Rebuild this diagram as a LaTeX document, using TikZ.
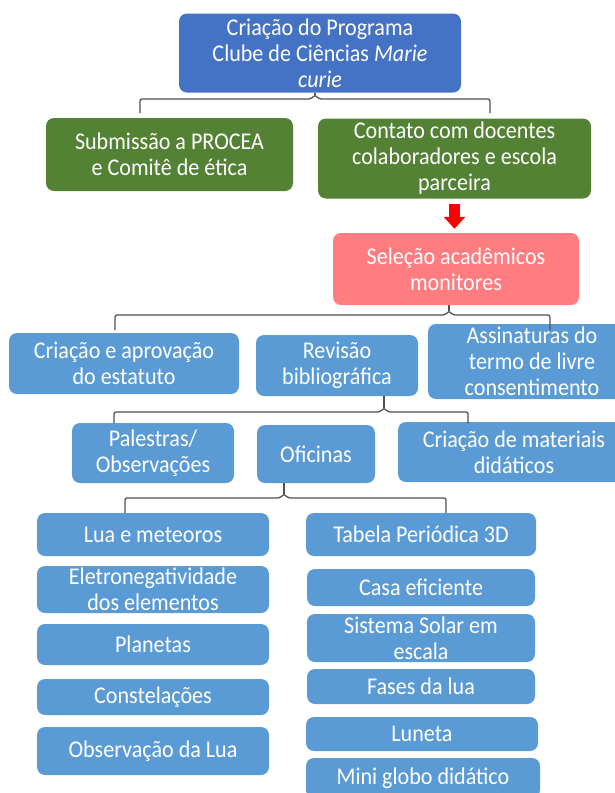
\documentclass[tikz,border=0pt]{standalone}
\usepackage{fontspec}
\setmainfont[FakeStretch=0.92]{Carlito}
\usepackage{xcolor}
\usetikzlibrary{shapes,arrows.meta}

\definecolor{azulforte}{HTML}{4472C4}
\definecolor{verde}{HTML}{548235}
\definecolor{rosa}{HTML}{FF7C80}
\definecolor{azulclaro}{HTML}{5B9BD5}
\definecolor{cinza}{HTML}{505050}

\begin{document}
\begin{tikzpicture}[
			x=1pt, y=-1pt,
			every node/.style={text=white, inner sep=0pt, align=center, font=\fontsize{24}{26}\selectfont},
			caixa/.style={rectangle, rounded corners=8pt, text centered},
			topo/.style={caixa, fill=azulforte},
			etapa/.style={caixa, fill=verde},
			selecao/.style={caixa, fill=rosa},
			atividade/.style={caixa, fill=azulclaro},
			oficina/.style={atividade, minimum width=232pt},
			chave/.style={draw=cinza, line width=1.3pt, rounded corners=2pt},
			seta/.style={draw=red, line width=11pt, -{Triangle[width=21pt,length=12pt]}}
			]
			\useasboundingbox (0,0) rectangle (615,793);
			
			% caixas
			\node (prog) [topo, minimum width=282pt, minimum height=79pt] at (320,53) {Criação do Programa\\Clube de Ciências \textit{Marie}\\\textit{curie}};
			\node (sub) [etapa, minimum width=247pt, minimum height=73pt] at (169.5,154.5) {Submissão a PROCEA\\e Comitê de ética};
			\node (cont) [etapa, minimum width=273pt, minimum height=80pt] at (454.5,158.5) {Contato com docentes\\colaboradores e escola\\parceira};
			\node (sel) [selecao, minimum width=246pt, minimum height=72pt] at (456,269) {Seleção acadêmicos\\monitores};
			
			\node (est) [atividade, minimum width=230pt, minimum height=61pt] at (124,363.5) {Criação e aprovação\\do estatuto};
			\node (rev) [atividade, minimum width=162pt, minimum height=61pt] at (337,365.5) {Revisão\\bibliográfica};
			\node (ass) [atividade, minimum width=208pt, minimum height=75pt] at (532,361.5) {Assinaturas do\\termo de livre\\consentimento};
			
			\node (pal) [atividade, minimum width=162pt, minimum height=60pt] at (153,453) {Palestras/\\Observações};
			\node (ofi) [atividade, minimum width=118pt, minimum height=58pt] at (316,454) {Oficinas};
			\node (mat) [atividade, minimum width=232pt, minimum height=60pt] at (514,452) {Criação de materiais\\didáticos};
			
			\node (lua) [oficina, minimum height=43pt] at (153,534.5) {Lua e meteoros};
			\node (ele) [oficina, minimum height=47pt] at (153,589.5) {Eletronegatividade\\dos elementos};
			\node (pla) [oficina, minimum height=41pt] at (153,644.5) {Planetas};
			\node (con) [oficina, minimum height=36pt] at (153,697) {Constelações};
			\node (obs) [oficina, minimum height=48pt] at (153,751) {Observação da Lua};
			
			\node (tab) [oficina, minimum width=230pt, minimum height=43pt] at (421,534.5) {Tabela Periódica 3D};
			\node (casa) [oficina, minimum width=228pt, minimum height=37pt] at (421,587.5) {Casa eficiente};
			\node (sis) [oficina, minimum width=228pt, minimum height=48pt] at (421,638) {Sistema Solar em\\escala};
			\node (fas) [oficina, minimum width=228pt, minimum height=35pt] at (421,686.5) {Fases da lua};
			\node (lun) [oficina, minimum width=232pt, minimum height=34pt] at (422,734) {Luneta};
			\node (mini) [oficina, minimum width=234pt, minimum height=40pt] at (423,778) {Mini globo didático};
			
			% pontas das chaves
			\coordinate (c1e) at (140,113); \coordinate (c1m) at (315,99); \coordinate (c1d) at (490,113);
			\coordinate (c2e) at (115,330); \coordinate (c2m) at (449,315); \coordinate (c2d) at (550,330);
			\coordinate (c3e) at (114,423); \coordinate (c3m) at (384,412); \coordinate (c3d) at (468,423);
			\coordinate (c4e) at (125,513); \coordinate (c4m) at (284,498); \coordinate (c4d) at (446,513);
			
			% chaves e seta
			\draw [chave] (c1e) |- ([xshift=-4pt]c1m) -- ([yshift=4pt]c1m) -- ([xshift=4pt]c1m) -| (c1d);
			\draw [chave] ([yshift=4pt]c1m) -- (prog.south -| c1m);
			\draw [chave] (c2e) |- ([xshift=-4pt]c2m) -- ([yshift=4pt]c2m) -- ([xshift=4pt]c2m) -| (c2d);
			\draw [chave] ([yshift=4pt]c2m) -- (sel.south -| c2m);
			\draw [chave] (c3e) |- ([xshift=-4pt]c3m) -- ([yshift=4pt]c3m) -- ([xshift=4pt]c3m) -| (c3d);
			\draw [chave] ([yshift=4pt]c3m) -- (rev.south -| c3m);
			\draw [chave] (c4e) |- ([xshift=-4pt]c4m) -- ([yshift=4pt]c4m) -- ([xshift=4pt]c4m) -| (c4d);
			\draw [chave] ([yshift=4pt]c4m) -- (ofi.south -| c4m);
			\draw [seta, shorten <=5pt, shorten >=4pt] (cont.south) -- (cont.south |- sel.north);
			
		\end{tikzpicture}
\end{document}
